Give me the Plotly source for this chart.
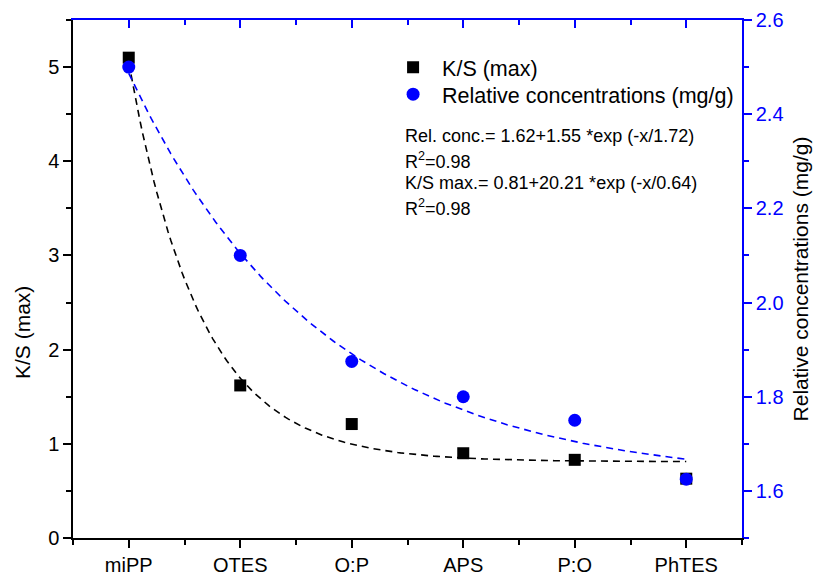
import numpy as np
import plotly.graph_objects as go

categories = ["miPP", "OTES", "O:P", "APS", "P:O", "PhTES"]
x_pos = [1, 2, 3, 4, 5, 6]
ks_max = [5.10, 1.62, 1.21, 0.90, 0.83, 0.63]
rel_conc = [2.50, 2.10, 1.875, 1.80, 1.75, 1.625]

# fitted curve parameters printed on the chart
ks_fit = (0.81, 20.21, 0.64)
rc_fit = (1.62, 1.55, 1.72)

xf = np.linspace(1, 6, 200)
ks_curve = ks_fit[0] + ks_fit[1] * np.exp(-xf / ks_fit[2])
rc_curve = rc_fit[0] + rc_fit[1] * np.exp(-xf / rc_fit[2])

FONT = "Liberation Sans, Arial, sans-serif"
BLUE = "#0000FF"

fig = go.Figure()
fig.add_trace(go.Scatter(x=xf, y=ks_curve, mode="lines", showlegend=False,
                         line=dict(color="black", width=1.6, dash="7px,5px"), hoverinfo="skip"))
fig.add_trace(go.Scatter(x=xf, y=rc_curve, mode="lines", showlegend=False, yaxis="y2",
                         line=dict(color=BLUE, width=1.6, dash="7px,5px"), hoverinfo="skip"))
fig.add_trace(go.Scatter(x=x_pos, y=ks_max, mode="markers", name="K/S (max)", legend="legend",
                         marker=dict(symbol="square", size=12, color="black")))
fig.add_trace(go.Scatter(x=x_pos, y=rel_conc, mode="markers", name="Relative concentrations (mg/g)",
                         yaxis="y2", legend="legend2",
                         marker=dict(symbol="circle", size=13, color=BLUE)))
# invisible trace to anchor the top axis
fig.add_trace(go.Scatter(x=[1], y=[0], xaxis="x2", mode="markers", showlegend=False,
                         marker=dict(opacity=0), hoverinfo="skip"))

legend_common = dict(xanchor="left", yanchor="top", bgcolor="rgba(0,0,0,0)",
                     font=dict(size=21.5, family=FONT), itemwidth=48)

fig.update_layout(
    width=815, height=577,
    margin=dict(l=73, r=73, t=20, b=39),
    plot_bgcolor="white", paper_bgcolor="white",
    font=dict(family=FONT, size=20, color="black"),
    xaxis=dict(range=[0.5, 6.5], tickmode="array", tickvals=x_pos, ticktext=categories,
               automargin=False,
               showline=True, linecolor="black", linewidth=1.5, ticks="outside", ticklen=8,
               tickwidth=1.5, tickcolor="black", showgrid=False, zeroline=False,
               minor=dict(tickmode="array", tickvals=[0.5, 1.5, 2.5, 3.5, 4.5, 5.5, 6.5],
                          ticks="outside", ticklen=5, tickwidth=1.5, tickcolor="black"),
               tickfont=dict(size=20)),
    xaxis2=dict(overlaying="x", side="top", range=[0.5, 6.5], tickmode="array", tickvals=x_pos,
                automargin=False,
                showticklabels=False, showline=True, linecolor=BLUE, linewidth=1.5,
                ticks="inside", ticklen=8, tickwidth=1.5, tickcolor=BLUE, showgrid=False,
                zeroline=False,
                minor=dict(tickmode="array", tickvals=[1.5, 2.5, 3.5, 4.5, 5.5, 6.5],
                           ticks="inside", ticklen=5, tickwidth=1.5, tickcolor=BLUE)),
    yaxis=dict(range=[0, 5.5], tickmode="linear", tick0=0, dtick=1, automargin=False,
               showline=True, linecolor="black", linewidth=1.5, ticks="outside", ticklen=8,
               tickwidth=1.5, tickcolor="black", showgrid=False, zeroline=False,
               minor=dict(dtick=0.5, ticks="outside", ticklen=5, tickwidth=1.5, tickcolor="black"),
               tickfont=dict(size=20)),
    yaxis2=dict(range=[1.5, 2.6], overlaying="y", side="right", tickmode="linear", tick0=1.6,
                dtick=0.2, tickformat=".1f", automargin=False,
                showline=True, linecolor=BLUE, linewidth=1.5, ticks="outside", ticklen=8,
                tickwidth=1.5, tickcolor=BLUE, showgrid=False, zeroline=False,
                minor=dict(dtick=0.1, ticks="outside", ticklen=5, tickwidth=1.5, tickcolor=BLUE),
                tickfont=dict(size=20, color=BLUE),
                title=dict(text="Relative concentrations (mg/g)", font=dict(size=21, color="black"),
                           standoff=11)),
    legend=dict(x=0.465, y=0.9485, **legend_common),
    legend2=dict(x=0.465, y=0.8963, **legend_common),
    showlegend=True,
)

# left axis title (placed lower than centre, as in the original)
fig.add_annotation(text="K/S (max)", xref="paper", yref="paper", x=(22 - 73) / 669,
                   y=1 - (333 - 20) / 518, xanchor="center", yanchor="middle", textangle=-90,
                   showarrow=False, font=dict(size=21, family=FONT, color="black"))

eq_lines = ["Rel. conc.= 1.62+1.55 *exp (-x/1.72)", "R<sup>2</sup>=0.98",
            "K/S max.= 0.81+20.21 *exp (-x/0.64)", "R<sup>2</sup>=0.98"]
eq_y = [136, 160, 183, 207]
for txt, yp in zip(eq_lines, eq_y):
    fig.add_annotation(text=txt, xref="paper", yref="paper", x=(403 - 73) / 669,
                       y=1 - (yp - 20) / 518, xanchor="left", yanchor="middle",
                       showarrow=False, font=dict(size=18, family=FONT))

fig.write_html("out.html")
